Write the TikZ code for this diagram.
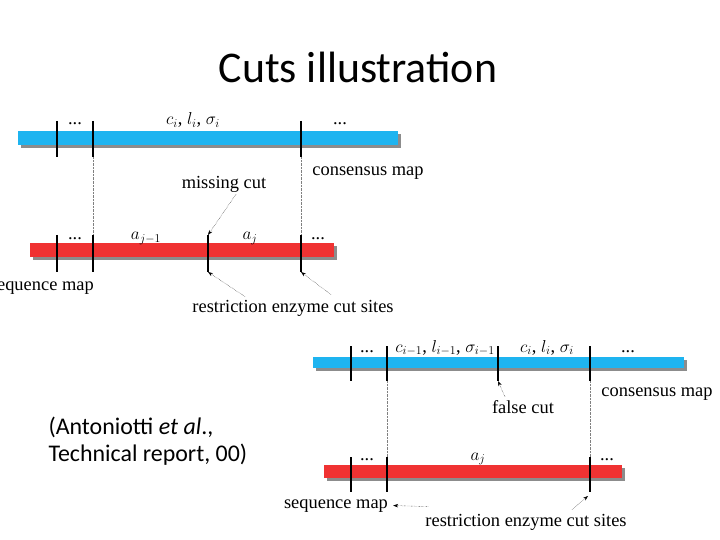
\documentclass[tikz,border=0pt]{standalone}
\usepackage{fontspec}
\setmainfont{Liberation Serif}
\newfontfamily\slidefont{Carlito}
\usepackage{tikz}
\usetikzlibrary{arrows.meta,positioning,calc}
\definecolor{mapblue}{HTML}{1EB4F0}
\definecolor{mapred}{HTML}{F03232}
\definecolor{shadowgray}{HTML}{8C8C8C}
\tikzset{
  cut/.style={line width=1.4pt},
  guide/.style={densely dotted,gray,thin},
  pointer/.style={-{Stealth[length=5pt,width=3.5pt]},densely dotted,thin},
  lbl/.style={font=\fontsize{18.5}{20}\selectfont,inner sep=1pt,anchor=base},
}

\begin{document}
\begin{tikzpicture}[x=1bp,y=-1bp]
\useasboundingbox (0,0) rectangle (720,540);
\node (title) at (358,67) {\slidefont\fontsize{44}{50}\selectfont Cuts illustration};
% upper example: missing cut
\fill[shadowgray] (21,134) rectangle (401,148);
\fill[mapblue] (18,131) rectangle (398,145);
\fill[shadowgray] (33,246) rectangle (337,260);
\fill[mapred] (30,243) rectangle (334,257);
\foreach \x/\n in {57/a,93/b,301/c} {
  \coordinate (ut\n) at (\x,121); \coordinate (ub\n) at (\x,157);
  \draw[cut] (ut\n) -- (ub\n);
}
\foreach \x/\n in {57/a,93/b,208/m,301/c} {
  \coordinate (lt\n) at (\x,235); \coordinate (lb\n) at (\x,272);
  \draw[cut] (lt\n) -- (lb\n);
}
\draw[guide] (ubb) -- (ltb);
\draw[guide] (ubc) -- (ltc);
\node[lbl] (dotsA) at (75,125) {...};
\node[lbl] (parA) at (193,125) {$c_i$, $l_i$, $\sigma_i$};
\node[lbl] (dotsB) at (340,125) {...};
\node[lbl] (consA) at (368,176) {consensus map};
\node[lbl] (missing) at (224,189) {missing cut};
\node[lbl] (dotsC) at (75,240) {...};
\node[lbl] (ajm) at (146,240) {$a_{j-1}$};
\node[lbl] (ajA) at (250,240) {$a_j$};
\node[lbl] (dotsD) at (318,240) {...};
\node[lbl,anchor=base east] (seqA) at (95,290) {sequence map};
\node[lbl] (siteA) at (293,312) {restriction enzyme cut sites};
\draw[pointer] ($(missing.south)+(12,0)$) -- (ltm);
\draw[pointer] ($(siteA.north)+(-48,-2)$) -- (lbm);
\draw[pointer] ($(siteA.north)+(38,-4)$) -- (lbc);
% lower example: false cut
\fill[shadowgray] (316,360) rectangle (687,371);
\fill[mapblue] (313,357) rectangle (684,368);
\fill[shadowgray] (327,468) rectangle (625,481);
\fill[mapred] (324,465) rectangle (622,478);
\foreach \x/\n in {351/a,387/b,498/f,590/c} {
  \coordinate (vt\n) at (\x,346); \coordinate (vb\n) at (\x,381);
  \draw[cut] (vt\n) -- (vb\n);
}
\foreach \x/\n in {351/a,387/b,590/c} {
  \coordinate (wt\n) at (\x,457); \coordinate (wb\n) at (\x,492);
  \draw[cut] (wt\n) -- (wb\n);
}
\draw[guide] (vbb) -- (wtb);
\draw[guide] (vbc) -- (wtc);
\node[lbl] (dotsE) at (367,352) {...};
\node[lbl] (parB) at (445,352) {$c_{i-1}$, $l_{i-1}$, $\sigma_{i-1}$};
\node[lbl] (parC) at (547,352) {$c_i$, $l_i$, $\sigma_i$};
\node[lbl] (dotsF) at (628,352) {...};
\node[lbl] (consB) at (657,396) {consensus map};
\node[lbl] (falsecut) at (523,413) {false cut};
\node[lbl] (dotsG) at (367,460) {...};
\node[lbl] (ajB) at (478,460) {$a_j$};
\node[lbl] (dotsH) at (607,460) {...};
\node[lbl] (seqB) at (336,508) {sequence map};
\node[lbl] (siteB) at (526,526) {restriction enzyme cut sites};
\draw[pointer] ($(falsecut.north)+(-18,-2)$) -- (vbf);
\draw[pointer] ($(siteB.north west)+(4,-6)$) -- ($(seqB.east)+(4,0)$);
\draw[pointer] ($(siteB.north)+(46,-3)$) -- ($(wbc)+(-2,4)$);
\node[anchor=base west,font=\slidefont\fontsize{24}{28}\selectfont] (citeA) at (45,434) {(Antoniotti \textit{et al}.,};
\node[anchor=base west,font=\slidefont\fontsize{24}{28}\selectfont] (citeB) at (45,461) {Technical report, 00)};
\end{tikzpicture}
\end{document}
